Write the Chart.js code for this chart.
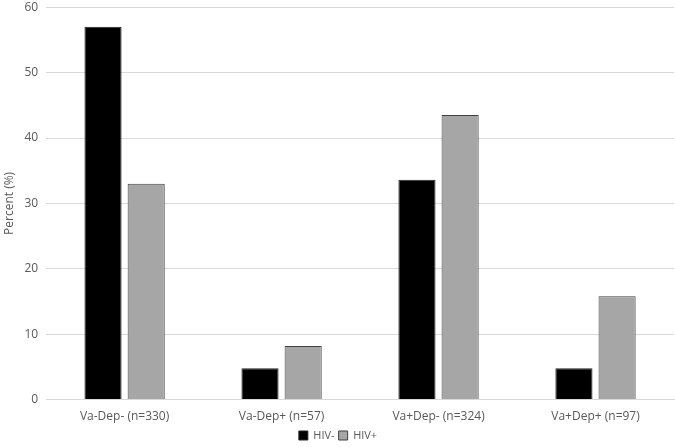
<!DOCTYPE html>
<html>
<head>
<meta charset="utf-8">
<script src="https://cdn.jsdelivr.net/npm/chart.js@4"></script>
<style>
  html, body { margin: 0; padding: 0; background: #fff; overflow: hidden; }
  #wrap { width: 675px; height: 455px; margin-top: -8px; }
</style>
</head>
<body>
<div id="wrap"><canvas id="chart"></canvas></div>
<script>
// data
const categories = ['Va-Dep- (n=330)', 'Va-Dep+ (n=57)', 'Va+Dep- (n=324)', 'Va+Dep+ (n=97)'];
const hivNeg = [57.0, 4.8, 33.6, 4.8];
const hivPos = [33.0, 8.2, 43.5, 15.8];
const yTicks = [0, 10, 20, 30, 40, 50, 60];

const textColor = '#595959';
const font = { family: 'Open Sans, Liberation Sans, sans-serif', size: 12 };

new Chart(document.getElementById('chart'), {
    type: 'bar',
    data: {
        labels: categories,
        datasets: [{
            label: 'HIV-',
            data: hivNeg,
            backgroundColor: '#000000',
            borderColor: '#262626',
            borderWidth: 1
        }, {
            label: 'HIV+',
            data: hivPos,
            backgroundColor: '#a6a6a6',
            borderColor: '#404040',
            borderWidth: 1
        }]
    },
    options: {
        responsive: true,
        maintainAspectRatio: false,
        animation: false,
        layout: { padding: { top: 0, right: 1, left: 2, bottom: -4 } },
        datasets: {
            bar: { categoryPercentage: 0.55, barPercentage: 0.86 }
        },
        scales: {
            x: {
                grid: { display: false },
                border: { color: '#d9d9d9' },
                ticks: { color: textColor, font: font, padding: 2 }
            },
            y: {
                min: 0,
                max: 60,
                afterBuildTicks: axis => { axis.ticks = yTicks.map(v => ({ value: v })); },
                grid: { color: '#d9d9d9', drawTicks: false },
                border: { display: false },
                ticks: { color: textColor, font: font, padding: 8 },
                title: { display: true, text: 'Percent (%)', color: textColor, font: font, padding: 0 }
            }
        },
        plugins: {
            legend: {
                position: 'bottom',
                labels: {
                    color: textColor,
                    font: { family: font.family, size: 11 },
                    boxWidth: 9,
                    boxHeight: 9,
                    padding: 4
                }
            },
            tooltip: { enabled: false }
        }
    }
});
</script>
</body>
</html>
